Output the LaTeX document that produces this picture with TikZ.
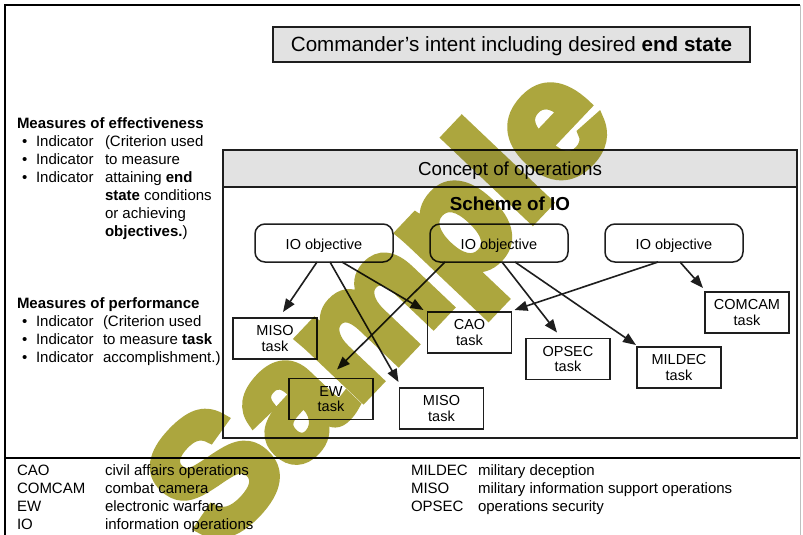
\documentclass[tikz,border=0pt]{standalone}
\usepackage{fontspec}
\setmainfont{Liberation Sans}
\newfontfamily\stampfont{Liberation Sans}[FakeBold=6]
\usetikzlibrary{arrows.meta,calc}
\definecolor{wmark}{RGB}{172,166,62}
\definecolor{panelgray}{RGB}{226,226,226}
\definecolor{inkline}{RGB}{30,30,30}

\begin{document}
\begin{tikzpicture}[x=1pt,y=-1pt,
  every node/.style={inner sep=0pt, outer sep=0pt},
  body/.style={font=\fontsize{15}{16}\selectfont},
  line/.style={anchor=base west, body},
  boldline/.style={anchor=base west, font=\fontsize{15}{16}\selectfont\bfseries},
  taskbox/.style={draw=inkline, line width=1.5pt, fill=white, minimum width=84pt,
    minimum height=41pt, align=center, font=\fontsize{14.5}{15.5}\selectfont},
  objbox/.style={draw=inkline, line width=1.5pt, rounded corners=10pt, fill=white,
    minimum width=138pt, minimum height=38pt, text height=12pt, text depth=0pt,
    font=\fontsize{14.5}{16}\selectfont},
  link/.style={draw=inkline, line width=1.6pt, -{Triangle[length=13pt,width=10pt]}},
]
\useasboundingbox (0,0) rectangle (803,535);
\fill[white] (0,0) rectangle (803,535);

% outer frame and legend separator
\draw[line width=2.5pt] (5,540) -- (5,5) -- (800,5);
\draw[gray!50, line width=1pt] (800,5) -- (800,540);
\draw[line width=2pt] (5,458) -- (800,458);

% commander's intent
\node[draw=inkline, line width=1.3pt, fill=panelgray, minimum width=477pt,
  minimum height=35pt, text height=14pt, text depth=0pt,
  font=\fontsize{20.6}{24}\selectfont] (intent) at (511.5,44.5)
  {Commander's intent including desired \textbf{end state}};

% concept of operations panel
\node[draw=inkline, line width=2pt, minimum width=574pt, minimum height=288pt] (conops) at (510,294) {};
\node[draw=inkline, line width=1.5pt, fill=panelgray, minimum width=574pt, minimum height=37pt,
  text height=13pt, text depth=0pt, font=\fontsize{18.8}{22}\selectfont] (conhead) at (510,168.5)
  {Concept of operations};
\node[font=\fontsize{18.8}{22}\selectfont\bfseries, text height=13pt, text depth=0pt] (scheme) at (510,204) {Scheme of IO};

% objectives
\node[objbox] (io1) at (324,243) {IO objective};
\node[objbox] (io2) at (499,243) {IO objective};
\node[objbox] (io3) at (674,243) {IO objective};

% tasks
\node[taskbox] (miso1) at (275,338.5) {MISO\\task};
\node[taskbox] (ew) at (331,399) {EW\\task};
\node[taskbox] (miso2) at (441.5,408.5) {MISO\\task};
\node[taskbox] (cao) at (469.5,332.5) {CAO\\task};
\node[taskbox] (opsec) at (568,359) {OPSEC\\task};
\node[taskbox] (mildec) at (679,367.5) {MILDEC\\task};
\node[taskbox] (comcam) at (747,312.5) {COMCAM\\task};

% objective-to-task links
\draw[link] ([xshift=-7pt]io1.south) -- ([xshift=8pt,yshift=6pt]miso1.north);
\draw[link] ([xshift=6pt]io1.south) -- ([xshift=-1pt,yshift=6pt]miso2.north west);
\draw[link] ([xshift=18pt]io1.south) -- ([xshift=-4pt,yshift=2pt]cao.north west);
\draw[link] ([xshift=-54pt]io2.south) -- ([xshift=6pt,yshift=9pt]ew.north);
\draw[link] ([xshift=3pt]io2.south) -- ([xshift=-11pt,yshift=6pt]opsec.north);
\draw[link] ([xshift=16pt]io2.south) -- ([xshift=-1pt,yshift=2pt]mildec.north west);
\draw[link] ([xshift=-16pt]io3.south) -- ([xshift=3pt,yshift=2pt]cao.north east);
\draw[link] ([xshift=6pt]io3.south) -- ([xshift=-2pt,yshift=4pt]comcam.north west);

% measures of effectiveness
\node[boldline] (moe) at (17,128) {Measures of effectiveness};
\foreach \i in {1,2,3}{
  \node[line] (moedot\i) at (22,{128+18*\i}) {•};
  \node[line] (moeind\i) at (36,{128+18*\i}) {Indicator};
}
\foreach \txt [count=\i] in {{(Criterion used},{to measure},{attaining \textbf{end}},
    {\textbf{state} conditions},{or achieving},{\textbf{objectives.})}}
  \node[line] (moetxt\i) at (105,{128+18*\i}) {\txt};

% measures of performance
\node[boldline] (mop) at (17,308) {Measures of performance};
\foreach \i in {1,2,3}{
  \node[line] (mopdot\i) at (22,{308+18*\i}) {•};
  \node[line] (mopind\i) at (36,{308+18*\i}) {Indicator};
}
\foreach \txt [count=\i] in {{(Criterion used},{to measure \textbf{task}},{accomplishment.)}}
  \node[line] (moptxt\i) at (103,{308+18*\i}) {\txt};

% legend
\foreach \ab/\df [count=\i] in {CAO/civil affairs operations, COMCAM/combat camera,
    EW/electronic warfare, IO/information operations}{
  \node[line] (labL\i) at (17,{457+18*\i}) {\ab};
  \node[line] (defL\i) at (105,{457+18*\i}) {\df};
}
\foreach \ab/\df [count=\i] in {MILDEC/military deception,
    MISO/military information support operations, OPSEC/operations security}{
  \node[line] (labR\i) at (411,{457+18*\i}) {\ab};
  \node[line] (defR\i) at (478,{457+18*\i}) {\df};
}

% watermark, composited as one group so the emboldening stroke does not double up
\begin{scope}[transparency group, blend mode=multiply]
  \node[anchor=base west, rotate=46.5, text=wmark,
    font=\fontsize{164}{164}\stampfont\bfseries] (stamp) at (217.4,551.5) {Sample};
\end{scope}
\end{tikzpicture}
\end{document}
